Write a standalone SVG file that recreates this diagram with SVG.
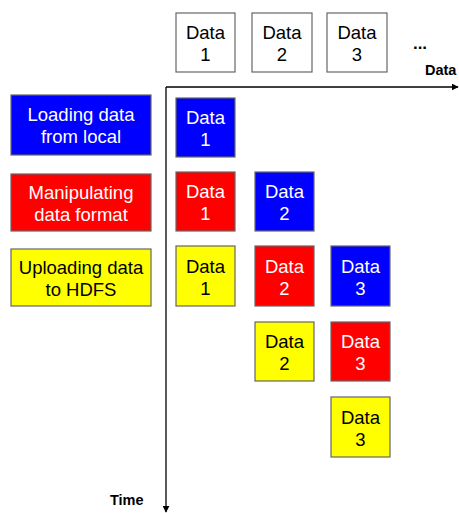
<svg xmlns="http://www.w3.org/2000/svg" width="459" height="513" viewBox="0 0 459 513">
  <style>
    .box { stroke: #666; stroke-width: 1.2; }
    .blue { fill: #0000ff; }
    .red { fill: #ff0000; }
    .yellow { fill: #ffff00; }
    .white { fill: #ffffff; }
    text { font-family: "Liberation Sans", Arial, sans-serif; font-size: 18.5px; text-anchor: middle; }
    .lt { fill: #ffffff; }
    .dk { fill: #000000; }
    .axis { font-weight: bold; font-size: 14.5px; text-anchor: start; }
    .axisline { stroke: #000; stroke-width: 1.3; fill: none; }
  </style>
  <defs>
    <marker id="arrow" viewBox="0 0 10 10" refX="9" refY="5" markerWidth="7" markerHeight="7" markerUnits="userSpaceOnUse" orient="auto">
      <path d="M0,0 L10,5 L0,10 z" fill="#000"/>
    </marker>
  </defs>

  <!-- data items -->
  <g id="top-data1"><rect class="box white" x="176" y="13" width="59" height="59"/><text class="dk" x="205.5" y="39">Data</text><text class="dk" x="205.5" y="61">1</text></g>
  <g id="top-data2"><rect class="box white" x="252" y="13" width="60" height="59"/><text class="dk" x="282" y="39">Data</text><text class="dk" x="282" y="61">2</text></g>
  <g id="top-data3"><rect class="box white" x="327" y="13" width="60" height="59"/><text class="dk" x="357" y="39">Data</text><text class="dk" x="357" y="61">3</text></g>
  <g id="ellipsis"><text class="dk" x="420" y="49" style="font-weight:bold;font-size:17px">...</text></g>

  <!-- stage legend -->
  <g id="stage-load"><rect class="box blue" x="11" y="95" width="140" height="60"/><text class="lt" x="81" y="121">Loading data</text><text class="lt" x="81" y="143">from local</text></g>
  <g id="stage-manip"><rect class="box red" x="11" y="174" width="140" height="57"/><text class="lt" x="81" y="199">Manipulating</text><text class="lt" x="81" y="221">data format</text></g>
  <g id="stage-upload"><rect class="box yellow" x="11" y="249" width="140" height="57"/><text class="dk" x="81" y="274">Uploading data</text><text class="dk" x="81" y="296">to HDFS</text></g>

  <!-- axes -->
  <g id="connectors">
    <line class="axisline" x1="166" y1="87" x2="458" y2="87" marker-end="url(#arrow)"/>
    <line class="axisline" x1="166" y1="87" x2="166" y2="512" marker-end="url(#arrow)"/>
  </g>
  <g id="axis-labels">
    <text class="axis dk" x="425" y="75">Data</text>
    <text class="axis dk" x="110" y="505">Time</text>
  </g>

  <!-- pipeline grid -->
  <g id="g-r1c1"><rect class="box blue" x="176" y="98" width="59" height="59"/><text class="lt" x="205.5" y="124">Data</text><text class="lt" x="205.5" y="146">1</text></g>

  <g id="g-r2c1"><rect class="box red" x="176" y="172" width="59" height="59"/><text class="lt" x="205.5" y="198">Data</text><text class="lt" x="205.5" y="220">1</text></g>
  <g id="g-r2c2"><rect class="box blue" x="255" y="172" width="59" height="59"/><text class="lt" x="284.5" y="198">Data</text><text class="lt" x="284.5" y="220">2</text></g>

  <g id="g-r3c1"><rect class="box yellow" x="176" y="246" width="59" height="60"/><text class="dk" x="205.5" y="273">Data</text><text class="dk" x="205.5" y="295">1</text></g>
  <g id="g-r3c2"><rect class="box red" x="255" y="246" width="59" height="60"/><text class="lt" x="284.5" y="273">Data</text><text class="lt" x="284.5" y="295">2</text></g>
  <g id="g-r3c3"><rect class="box blue" x="331" y="246" width="59" height="60"/><text class="lt" x="360.5" y="273">Data</text><text class="lt" x="360.5" y="295">3</text></g>

  <g id="g-r4c2"><rect class="box yellow" x="255" y="322" width="59" height="59"/><text class="dk" x="284.5" y="348">Data</text><text class="dk" x="284.5" y="370">2</text></g>
  <g id="g-r4c3"><rect class="box red" x="331" y="322" width="59" height="59"/><text class="lt" x="360.5" y="348">Data</text><text class="lt" x="360.5" y="370">3</text></g>

  <g id="g-r5c3"><rect class="box yellow" x="331" y="397" width="59" height="60"/><text class="dk" x="360.5" y="424">Data</text><text class="dk" x="360.5" y="446">3</text></g>
</svg>
